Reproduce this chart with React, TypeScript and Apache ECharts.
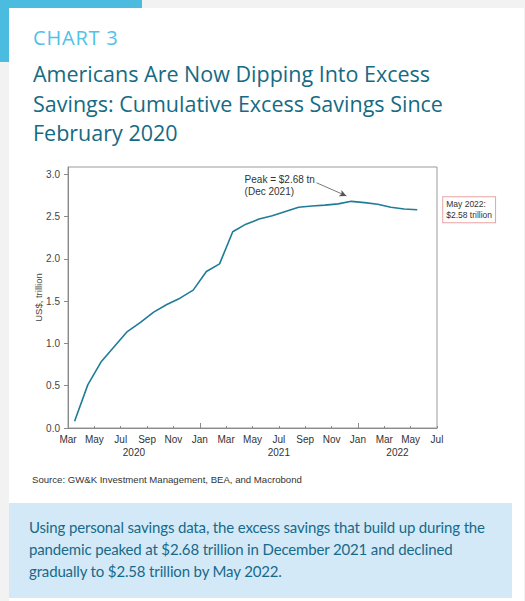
import React, { useEffect, useRef } from "react";
import * as echarts from "echarts";

// ---- data ----
const monthNames = ["Jan", "Feb", "Mar", "Apr", "May", "Jun", "Jul", "Aug", "Sep", "Oct", "Nov", "Dec"];
const startMonthIndex = 2; // March
const startYear = 2020;
const axisMonths = 28; // Mar 2020 .. Jul 2022
// Cumulative excess savings, US$ trillion, monthly Mar 2020 .. May 2022
const savings = [
  0.08, 0.51, 0.78, 0.96, 1.14, 1.25, 1.37, 1.46, 1.535, 1.63,
  1.85, 1.94, 2.32, 2.41, 2.47, 2.51, 2.56, 2.61, 2.625, 2.635, 2.65, 2.68,
  2.665, 2.645, 2.61, 2.59, 2.58,
];
const yTicks = [0, 0.5, 1.0, 1.5, 2.0, 2.5, 3.0];
const xTickMonths = [0, 2, 4, 6, 8, 10, 12, 14, 16, 18, 20, 22, 24, 26, 28];
const januaryTicks = [10, 22];
const years = ["2020", "2021", "2022"];
const yearLabelMonths = [5, 16, 25];
const yAxisName = "US$, trillion";
const sourceText = "Source: GW&K Investment Management, BEA, and Macrobond";
const peakText = "Peak = $2.68 tn\n(Dec 2021)";

const LINE = "#1f7c98";

function Chart() {
  const ref = useRef<HTMLDivElement>(null);
  useEffect(() => {
    if (!ref.current) return;
    const chart = echarts.init(ref.current, null, { renderer: "svg" });
    const data = savings.map((v, i) => [i + 0.5, v]);
    let peakI = 0;
    savings.forEach((v, i) => {
      if (v > savings[peakI]) peakI = i;
    });
    const peakX = peakI + 0.5;
    const peakV = savings[peakI];
    const lastI = savings.length - 1;
    const lastMonth = monthNames[(startMonthIndex + lastI) % 12];
    const lastYear = startYear + Math.floor((startMonthIndex + lastI) / 12);
    const endText = `${lastMonth} ${lastYear}:\n$${savings[lastI].toFixed(2)} trillion`;

    chart.setOption({
      animation: false,
      grid: {
        left: 68,
        top: 17,
        right: 88,
        bottom: 72,
        show: true,
        borderColor: "#9a9a9a",
        borderWidth: 1,
        backgroundColor: "transparent",
      },
      xAxis: [
        {
          type: "value",
          min: 0,
          max: axisMonths,
          interval: 2,
          axisLine: { show: true, lineStyle: { color: "#8a8a8a", width: 1 } },
          axisTick: {
            show: true,
            inside: true,
            length: 2,
            customValues: xTickMonths,
            lineStyle: { color: "#8a8a8a" },
          },
          splitLine: { show: false },
          axisLabel: {
            customValues: xTickMonths,
            margin: 6,
            fontSize: 10,
            color: "#333",
            fontFamily: "Liberation Sans, Arial, sans-serif",
            formatter: (v: number) => monthNames[(startMonthIndex + Math.round(v)) % 12],
          },
        },
        {
          type: "value",
          min: 0,
          max: axisMonths,
          position: "bottom",
          axisLine: { show: false },
          axisTick: {
            show: true,
            inside: true,
            length: 5,
            customValues: januaryTicks,
            lineStyle: { color: "#8a8a8a" },
          },
          splitLine: { show: false },
          axisLabel: {
            customValues: yearLabelMonths,
            margin: 19,
            fontSize: 10,
            color: "#333",
            fontFamily: "Liberation Sans, Arial, sans-serif",
            formatter: (v: number) => years[yearLabelMonths.indexOf(Math.round(v))] ?? "",
          },
        },
      ],
      yAxis: {
        type: "value",
        min: 0,
        max: 3.086,
        name: yAxisName,
        nameLocation: "middle",
        nameGap: 25,
        nameMoveOverlap: false,
        nameTextStyle: { fontSize: 9.5, color: "#444", fontFamily: "Liberation Sans, Arial, sans-serif" },
        axisLine: { show: true, lineStyle: { color: "#8a8a8a", width: 1 } },
        axisTick: { show: true, length: 4, customValues: yTicks, lineStyle: { color: "#8a8a8a" } },
        splitLine: { show: false },
        axisLabel: {
          customValues: yTicks,
          margin: 8,
          fontSize: 10,
          color: "#444",
          fontFamily: "Liberation Sans, Arial, sans-serif",
          formatter: (v: number) => v.toFixed(1),
        },
      },
      series: [
        {
          type: "line",
          data,
          xAxisIndex: 0,
          symbol: "none",
          lineStyle: { color: LINE, width: 1.6 },
          endLabel: {
            show: true,
            formatter: endText,
            distance: 26,
            fontSize: 8.5,
            lineHeight: 11,
            color: "#333",
            fontFamily: "Liberation Sans, Arial, sans-serif",
            backgroundColor: "#fff",
            borderColor: "#e8a3a3",
            borderWidth: 1,
            padding: [2, 3, 1, 3],
            align: "left",
            verticalAlign: "middle",
          },
          markLine: {
            silent: true,
            symbol: ["none", "arrow"],
            symbolSize: [5, 7],
            lineStyle: { color: "#555", width: 0.8, type: "solid" },
            label: { show: false },
            data: [
              [
                { coord: [peakX - 2.65, peakV + 0.22] },
                { coord: [peakX - 0.37, peakV + 0.064] },
              ],
            ],
          },
          markPoint: {
            silent: true,
            symbol: "circle",
            symbolSize: 0,
            data: [
              {
                coord: [peakX - 8.1, peakV + 0.186],
                label: {
                  show: true,
                  position: "right",
                  distance: 0,
                  formatter: peakText,
                  fontSize: 10,
                  lineHeight: 12.5,
                  color: "#333",
                  fontFamily: "Liberation Sans, Arial, sans-serif",
                },
              },
            ],
          },
        },
      ],
    });
    return () => chart.dispose();
  }, []);
  return <div ref={ref} style={{ position: "absolute", left: 0, top: 150, width: 525, height: 350 }} />;
}

export default function App() {
  return (
    <div
      style={{
        position: "absolute",
        left: 0,
        top: 0,
        width: 525,
        height: 601,
        background: "#f2f2f2",
        overflow: "hidden",
      }}
    >
      <div style={{ position: "absolute", left: 0, top: 0, width: 142, height: 62, background: "#4bbbe0" }} />
      <div style={{ position: "absolute", left: 9, top: 8, width: 515, height: 593, background: "#fff" }} />
      <div
        style={{
          position: "absolute",
          left: 33,
          top: 28,
          fontFamily: "'Open Sans', sans-serif",
          fontWeight: 500,
          fontSize: 20,
          lineHeight: "20px",
          letterSpacing: 0.8,
          color: "#4fc2e7",
          whiteSpace: "nowrap",
        }}
      >
        CHART 3
      </div>
      <div
        style={{
          position: "absolute",
          left: 33,
          top: 59,
          fontFamily: "'Open Sans', sans-serif",
          fontWeight: 400,
          fontSize: 21.5,
          lineHeight: "29.7px",
          color: "#156a84",
          whiteSpace: "nowrap",
        }}
      >
        Americans Are Now Dipping Into Excess
        <br />
        Savings: Cumulative Excess Savings Since
        <br />
        February 2020
      </div>
      <Chart />
      <div
        style={{
          position: "absolute",
          left: 32,
          top: 474,
          fontFamily: "'Liberation Sans', Arial, sans-serif",
          fontSize: 9.6,
          lineHeight: "12px",
          color: "#333",
          whiteSpace: "nowrap",
        }}
      >
        {sourceText}
      </div>
      <div style={{ position: "absolute", left: 9, top: 503, width: 503, height: 95, background: "#d3e9f7" }} />
      <div
        style={{
          position: "absolute",
          left: 29,
          top: 516,
          fontFamily: "Lato, sans-serif",
          fontSize: 15,
          letterSpacing: -0.15,
          lineHeight: "22px",
          color: "#17698a",
          whiteSpace: "nowrap",
        }}
      >
        Using personal savings data, the excess savings that build up during the
        <br />
        pandemic peaked at $2.68 trillion in December 2021 and declined
        <br />
        gradually to $2.58 trillion by May 2022.
      </div>
    </div>
  );
}
